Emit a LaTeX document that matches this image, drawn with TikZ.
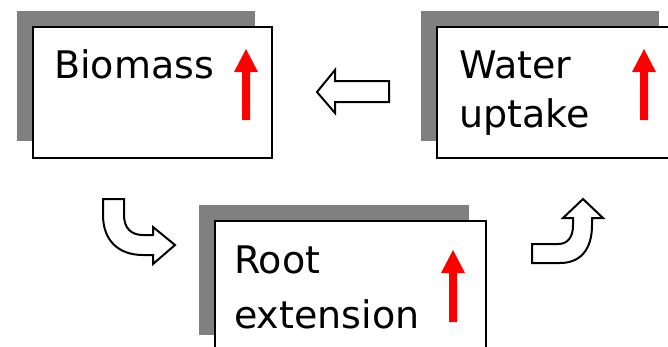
\documentclass[tikz,border=0pt]{standalone}
\usepackage{fontspec}
\setmainfont{DejaVu Sans}
\definecolor{shadowgray}{HTML}{808080}
\newcommand\redup[3]{\fill[red] (#1-4,#3) -- (#1-4,#2+23) -- (#1-12,#2+23) -- (#1,#2) -- (#1+12,#2+23) -- (#1+4,#2+23) -- (#1+4,#3) -- cycle;}
\begin{document}
\begin{tikzpicture}[x=1pt,y=-1pt,
  panel/.style={draw=black,line width=2pt,fill=white,anchor=north west,inner sep=0pt,minimum width=#1,minimum height=131pt},
  shade/.style={fill=shadowgray,draw=none,anchor=north west,inner sep=0pt,minimum width=#1,minimum height=130pt},
  word/.style={anchor=base west,inner sep=0pt,font=\fontsize{38}{46}\selectfont},
  blockarrow/.style={draw=black,line width=2pt,fill=white,line join=miter}]
\path[use as bounding box] (0,0) rectangle (668,346);
\clip (0,0) rectangle (668,346);
% Biomass
\node[shade=238pt] (bioS) at (17,11) {};
\node[panel=239pt] (bio) at (32,26) {};
\node[word] (bioT) at (54,78) {Biomass};
\redup{246}{49}{120}
% Water uptake
\node[shade=238pt] (watS) at (421,11) {};
\node[panel=240pt] (wat) at (436,26) {};
\node[word] (watT1) at (459,78) {Water};
\node[word] (watT2) at (459,127) {uptake};
\redup{644}{49}{120}
% Root extension
\node[shade=270pt] (rooS) at (199,205) {};
\node[panel=271pt] (roo) at (214,220) {};
\node[word] (rooT1) at (234,273) {Root};
\node[word] (rooT2) at (234,328) {extension};
\redup{453}{250}{322}
% left block arrow
\draw[blockarrow] (389,81) -- (335,81) -- (335,70) -- (317,92) -- (335,113) -- (335,102) -- (389,102) -- cycle;
% down-right curved block arrow
\draw[blockarrow] (103,199) -- (124,199) -- (124,215) .. controls (124,228) and (131,235) .. (143,235)
  -- (153,235) -- (153,227) -- (175,245) -- (153,264) -- (153,255) -- (143,255)
  .. controls (118,255) and (103,240) .. (103,215) -- cycle;
% up-right curved block arrow
\draw[blockarrow] (532,244) -- (558,244) .. controls (568,244) and (573,237) .. (573,225)
  -- (573,218) -- (563,218) -- (583,199) -- (603,218) -- (592,218) -- (592,225)
  .. controls (592,250) and (580,263) .. (560,263) -- (532,263) -- cycle;
\end{tikzpicture}
\end{document}
